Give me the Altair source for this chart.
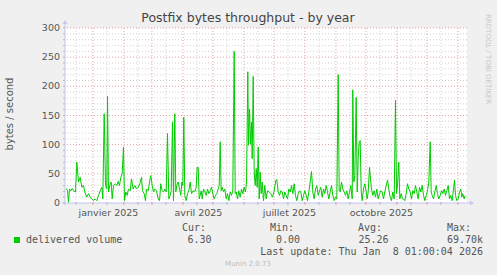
import altair as alt
import pandas as pd

# ---------------- data ----------------
START = pd.Timestamp("2024-12-04 01:00:00")   # left edge of the 400-day window
SPAN_DAYS = 402

day_offset = [
    1.2, 2.5, 3.5, 4.5, 5.8, 7.2, 8.5, 10.5, 11.8, 13.5, 15.2, 16.8, 18.5, 19.8, 21.8, 23.5, 25.2, 26.8,
    28.5, 30.2, 31.8, 33.5, 35.2, 36.8, 37.8, 39.2, 40.5, 41.8, 42.5, 43.5, 44.8, 46.2, 47.2, 48.5, 50.2,
    51.8, 53.2, 54.5, 55.8, 57.2, 58.5, 59.5, 60.8, 62.2, 63.5, 65.2,
    66.5, 68.2, 69.8, 71.5, 73.2, 74.8, 76.5, 77.5, 79.2, 80.5, 81.5, 83.2, 84.8, 85.8, 87.2, 88.5, 89.8,
    91.5, 93.2, 94.5, 95.8, 97.2, 98.5, 99.8, 101.2, 102.5, 103.8, 105.2, 106.2, 107.5, 108.5, 109.8,
    110.8, 111.8, 113.2, 114.5, 115.8, 116.8, 117.8, 118.8, 119.8, 121.2, 122.5, 123.8, 125.2, 126.5,
    128.2, 129.8, 131.2, 132.2, 133.2, 134.2,
    136.2, 137.2, 138.5, 139.8, 141.2, 142.5, 143.8, 145.2, 146.5, 147.8, 149.2, 150.5, 151.8, 153.2,
    154.2, 155.2, 156.2, 157.2, 158.5, 159.8, 161.2, 162.5, 163.8, 165.2, 166.5, 167.8, 169.2, 170.2,
    171.2, 172.5, 173.8, 175.2, 176.5, 177.8, 179.2, 180.5, 181.5, 182.8, 183.5, 184.5, 185.5, 186.5,
    187.2, 188.2, 189.2, 190.2, 191.2, 192.2, 193.2, 194.2, 195.2, 196.2, 197.2, 198.5, 199.8, 201.2,
    202.5, 204.2, 205.8, 207.5, 209.2, 210.8, 211.8, 213.2, 214.5, 215.8, 217.2, 218.5, 219.8, 221.2,
    222.5, 223.8, 225.2, 226.5, 227.8, 229.2, 230.5, 231.8, 233.2, 234.5, 235.8, 237.2, 238.5, 239.8,
    241.2, 242.5, 243.8, 245.2, 246.5, 247.8, 249.2, 250.5, 251.8, 253.2, 254.5, 255.8, 257.2, 258.5,
    259.8, 261.2, 262.5, 263.8, 265.2, 266.5, 267.8, 269.2,
    270.5, 271.8, 273.2, 274.2, 275.2, 276.5, 277.8, 279.2, 280.5, 281.8, 283.2, 284.5, 285.8, 287.2,
    287.8, 288.8, 289.8, 291.2, 292.2, 293.2, 294.2, 295.2, 296.2, 297.2, 298.5, 299.8, 301.2, 302.2,
    303.2, 304.5, 305.5, 306.5, 307.8, 309.2, 310.5, 311.8, 313.2, 314.5, 315.8, 317.2, 318.5, 319.8,
    321.2, 322.5, 323.8, 325.2, 326.5, 327.8, 329.2, 330.5, 331.5, 332.5, 333.8, 334.8, 336.2, 337.5,
    338.5, 339.8, 341.2, 342.5, 343.8, 345.2, 346.5, 347.8, 349.2, 350.5, 351.8, 353.2, 354.5, 355.8,
    357.2, 358.5, 359.8, 361.2, 362.5, 363.8, 365.2, 366.2, 367.2, 368.5, 369.8, 371.2, 372.5, 373.8,
    375.2, 376.5, 377.8, 379.2, 380.5, 381.8, 383.2, 384.5, 385.8, 387.2, 388.5, 389.5, 390.5, 391.8,
    393.2, 394.5, 395.8, 396.8, 397.8, 399.2, 400.2,
]
bytes_per_sec = [
    25, 21, 1, 24, 21, 25, 21, 19, 70, 36, 44, 27, 30, 19, 10, 16, 10, 7,
    4, 7, 4, 13, 21, 27, 7, 153, 30, 24, 183, 19, 30, 36, 7, 30, 33,
    30, 37, 30, 44, 50, 96, 4, 19, 13, 24, 21,
    41, 24, 30, 24, 27, 33, 44, 21, 16, 4, 24, 21, 39, 47, 30, 19, 24,
    21, 7, 4, 33, 21, 19, 24, 19, 119, 7, 13, 21, 139, 4, 153,
    19, 30, 36, 24, 13, 36, 30, 147, 13, 4, 16, 21, 36, 16,
    21, 19, 27, 61, 61, 7,
    21, 7, 24, 19, 13, 24, 16, 21, 27, 16, 7, 13, 16, 24,
    30, 105, 21, 27, 19, 24, 7, 16, 4, 19, 13, 21, 260, 16,
    19, 7, 21, 10, 24, 16, 27, 19, 36, 225, 99, 161, 101, 139,
    76, 217, 53, 30, 59, 27, 96, 7, 53, 16, 36, 4, 30, 7,
    21, 19, 16, 10, 21, 39, 40, 19, 13, 21, 19, 7, 19, 13,
    7, 24, 19, 30, 16, 33, 13, 4, 16, 21, 19, 4, 13, 21,
    13, 4, 19, 36, 54, 19, 7, 24, 30, 13, 21, 27, 10, 24,
    16, 30, 19, 7, 19, 30, 13, 4,
    10, 7, 220, 21, 19, 36, 24, 19, 13, 21, 7, 19, 30, 7,
    194, 36, 47, 181, 19, 76, 104, 107, 19, 4, 24, 33, 19, 7,
    19, 61, 41, 24, 13, 21, 10, 24, 7, 16, 21, 19, 7, 19,
    30, 39, 24, 10, 4, 19, 7, 176, 16, 30, 70, 7, 16, 7,
    7, 4, 16, 33, 24, 19, 7, 21, 16, 30, 19, 7, 27, 19,
    30, 13, 4, 13, 21, 36, 105, 19, 13, 7, 19, 30, 16, 7,
    13, 21, 16, 24, 13, 21, 30, 7, 13, 4, 24, 39, 13, 4,
    7, 19, 24, 10, 16, 7, 13,
]

y_label_values = [0, 50, 100, 150, 200, 250, 300]
y_minor_values = [v for v in range(10, 301, 10) if v % 50 != 0]
y_major_values = [50, 100, 150, 200, 250, 300]

month_starts = ["2025-01-01", "2025-02-01", "2025-03-01", "2025-04-01", "2025-05-01", "2025-06-01",
                "2025-07-01", "2025-08-01", "2025-09-01", "2025-10-01", "2025-11-01", "2025-12-01",
                "2026-01-01"]
mid_months = ["2024-12-15", "2025-01-15", "2025-02-15", "2025-03-15", "2025-04-15", "2025-05-15",
              "2025-06-15", "2025-07-15", "2025-08-15", "2025-09-15", "2025-10-15", "2025-11-15",
              "2025-12-15"]
x_label_months = ["2025-01-01", "2025-04-01", "2025-07-01", "2025-10-01"]
x_label_text = ["janvier 2025", "avril 2025", "juillet 2025", "octobre 2025"]

title_text = "Postfix bytes throughput - by year"
y_title_text = "bytes / second"
series_name = "delivered volume"
legend_headers = ["Cur:", "Min:", "Avg:", "Max:"]
legend_values = ["6.30", "0.00", "25.26", "69.70k"]
last_update = "Last update: Thu Jan \u00a08 01:00:04 2026"
footer_text = "Munin 2.0.73"
side_text = "RRDTOOL / TOBI OETIKER"


def offset(s):
    return (pd.Timestamp(s) - START) / pd.Timedelta(days=1)


# ---------------- layout ----------------
W, H = 402, 175
PAD = {"left": 65, "top": 28, "right": 497 - 65 - W, "bottom": 275 - 28 - H}

GREEN = "#00cc00"
GRID_MINOR = "#d4d4d4"
GRID_MAJOR = "#e8a0a0"
AXIS_COL = "#c4c4f0"
TEXT_COL = "#555555"

xs = alt.Scale(domain=[0, SPAN_DAYS], nice=False, zero=False)
ys = alt.Scale(domain=[0, 300], nice=False, zero=False)

line_df = pd.DataFrame({"d": day_offset, "v": bytes_per_sec})
minor_y_df = pd.DataFrame({"v": y_minor_values})
major_y_df = pd.DataFrame({"v": y_major_values})
ylab_df = pd.DataFrame({"v": y_label_values, "t": [str(v) for v in y_label_values]})
ytick_df = pd.DataFrame({"v": list(range(0, 301, 10))})
month_df = pd.DataFrame({"d": [offset(m) for m in month_starts]})
mid_df = pd.DataFrame({"d": [offset(m) for m in mid_months]})
xlab_df = pd.DataFrame({"d": [offset(m) + 15.5 for m in x_label_months], "t": x_label_text})

one = alt.Data(values=[{"k": 1}])

layers = []

# grid
layers.append(alt.Chart(minor_y_df).mark_rule(color=GRID_MINOR, strokeDash=[1, 2], strokeWidth=1)
              .encode(y=alt.Y("v:Q", scale=ys, axis=None)))
layers.append(alt.Chart(mid_df).mark_rule(color=GRID_MINOR, strokeDash=[1, 2], strokeWidth=1)
              .encode(x=alt.X("d:Q", scale=xs, axis=None)))
layers.append(alt.Chart(major_y_df).mark_rule(color=GRID_MAJOR, strokeDash=[1, 2], strokeWidth=1)
              .encode(y=alt.Y("v:Q", scale=ys, axis=None)))
layers.append(alt.Chart(month_df).mark_rule(color=GRID_MAJOR, strokeDash=[1, 2], strokeWidth=1)
              .encode(x=alt.X("d:Q", scale=xs, axis=None)))

# data line
layers.append(alt.Chart(line_df).mark_line(color=GREEN, strokeWidth=1, interpolate="linear")
              .encode(x=alt.X("d:Q", scale=xs, axis=None), y=alt.Y("v:Q", scale=ys, axis=None)))

# axes
layers.append(alt.Chart(one).mark_rule(color=AXIS_COL, strokeWidth=1)
              .encode(x=alt.value(0), y=alt.value(-5), y2=alt.value(H + 2)))
layers.append(alt.Chart(one).mark_rule(color=AXIS_COL, strokeWidth=1)
              .encode(x=alt.value(-3), x2=alt.value(W + 4), y=alt.value(H)))
layers.append(alt.Chart(one).mark_point(shape="triangle-up", filled=True, size=22, color=AXIS_COL, opacity=1)
              .encode(x=alt.value(0), y=alt.value(-6)))
layers.append(alt.Chart(one).mark_point(shape="triangle-right", filled=True, size=22, color=AXIS_COL, opacity=1)
              .encode(x=alt.value(W + 5), y=alt.value(H)))

# ticks
layers.append(alt.Chart(ytick_df).mark_rule(color="#b8b8c8", strokeWidth=1)
              .encode(y=alt.Y("v:Q", scale=ys, axis=None), x=alt.value(-2), x2=alt.value(0)))
layers.append(alt.Chart(month_df).mark_rule(color=GRID_MAJOR, strokeWidth=1)
              .encode(x=alt.X("d:Q", scale=xs, axis=None), y=alt.value(H - 1), y2=alt.value(H + 2)))
layers.append(alt.Chart(mid_df).mark_rule(color="#b8b8c8", strokeWidth=1)
              .encode(x=alt.X("d:Q", scale=xs, axis=None), y=alt.value(H - 1), y2=alt.value(H + 2)))

# axis labels
layers.append(alt.Chart(ylab_df).mark_text(align="right", baseline="middle", fontSize=9.5,
                                            font="DejaVu Sans", color=TEXT_COL)
              .encode(y=alt.Y("v:Q", scale=ys, axis=None), x=alt.value(-5), text="t:N"))
layers.append(alt.Chart(xlab_df).mark_text(align="center", baseline="alphabetic", fontSize=9.5,
                                            font="DejaVu Sans", color=TEXT_COL)
              .encode(x=alt.X("d:Q", scale=xs, axis=None), y=alt.value(H + 12.5), text="t:N"))

# titles
layers.append(alt.Chart(one).mark_text(text=title_text, align="center", baseline="alphabetic",
                                        fontSize=12.5, font="DejaVu Sans", color="#444444")
              .encode(x=alt.value(183), y=alt.value(-6)))
layers.append(alt.Chart(one).mark_text(text=y_title_text, align="center", baseline="middle", angle=270,
                                        fontSize=10, font="DejaVu Sans", color=TEXT_COL)
              .encode(x=alt.value(-55), y=alt.value(86)))
layers.append(alt.Chart(one).mark_text(text=side_text, align="left", baseline="middle", angle=90,
                                        fontSize=7, font="DejaVu Sans", color="#c8c8c8")
              .encode(x=alt.value(423), y=alt.value(-14)))

# legend
MONO = "DejaVu Sans Mono"
layers.append(alt.Chart(one).mark_square(size=36, color=GREEN, filled=True, opacity=1)
              .encode(x=alt.value(-48), y=alt.value(212)))
layers.append(alt.Chart(one).mark_text(text=series_name, align="left", baseline="alphabetic",
                                        fontSize=10, font=MONO, color=TEXT_COL)
              .encode(x=alt.value(-39), y=alt.value(215)))
header_x = [117, 205, 293, 382]
value_x = [122.5, 211, 293.5, 382]
for hx, ht in zip(header_x, legend_headers):
    layers.append(alt.Chart(one).mark_text(text=ht, align="left", baseline="alphabetic",
                                            fontSize=10, font=MONO, color=TEXT_COL)
                  .encode(x=alt.value(hx), y=alt.value(203)))
for vx, vt in zip(value_x, legend_values):
    layers.append(alt.Chart(one).mark_text(text=vt, align="left", baseline="alphabetic",
                                            fontSize=10, font=MONO, color=TEXT_COL)
                  .encode(x=alt.value(vx), y=alt.value(215)))
layers.append(alt.Chart(one).mark_text(text=last_update, align="right", baseline="alphabetic",
                                        fontSize=10, font=MONO, color=TEXT_COL)
              .encode(x=alt.value(418), y=alt.value(227)))
layers.append(alt.Chart(one).mark_text(text=footer_text, align="center", baseline="alphabetic",
                                        fontSize=7, font="DejaVu Sans", color="#bbbbbb")
              .encode(x=alt.value(183), y=alt.value(238)))

chart = (
    alt.layer(*layers)
    .properties(width=W, height=H, padding=PAD, background="#f0f0f0",
                autosize=alt.AutoSizeParams(type="none"))
    .configure_view(fill="white", stroke=None)
)

chart.save("out.html", embed_options={"renderer": "svg", "actions": False})
